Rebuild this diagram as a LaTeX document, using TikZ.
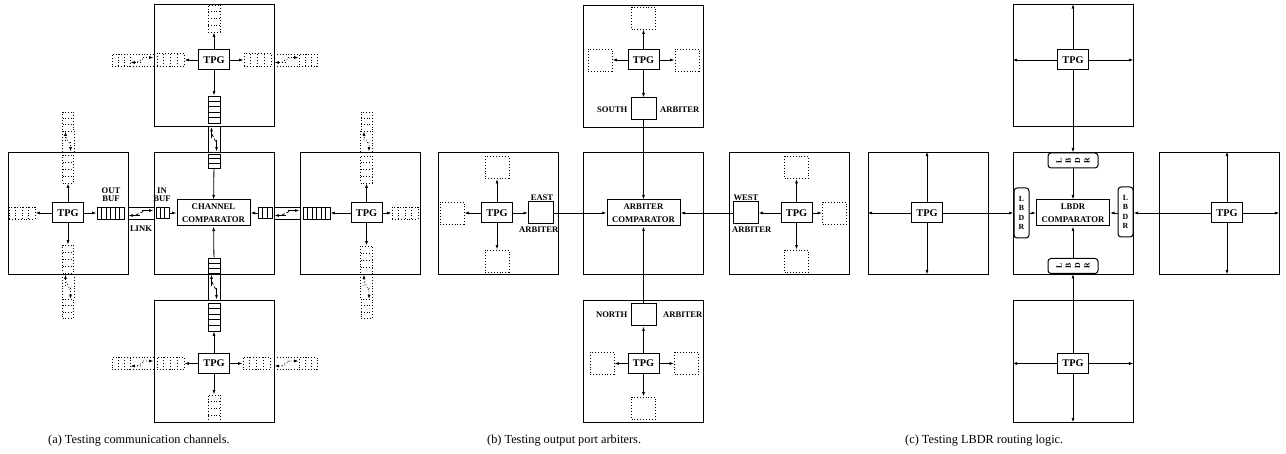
\documentclass[tikz,border=0pt]{standalone}
\usepackage{fontspec}
\setmainfont{Liberation Serif}
\usetikzlibrary{calc,arrows.meta}
\tikzset{
 tile/.style={draw, line width=0.95pt, minimum width=120pt, minimum height=122pt, inner sep=0pt},
 tpg/.style={draw, line width=1pt, minimum width=31pt, minimum height=20pt, inner sep=0pt, font=\fontsize{10.3}{10}\selectfont\bfseries},
 cmp/.style={draw, line width=1pt, minimum width=73pt, minimum height=26pt, inner sep=0pt, align=center, font=\fontsize{8.7}{13}\selectfont\bfseries},
 lbl/.style={inner sep=0pt, align=center, font=\fontsize{8.6}{8}\selectfont\bfseries},
 lbdr/.style={draw, rounded corners=3pt, line width=1pt, minimum width=15pt, minimum height=50pt, inner sep=0pt, align=center, font=\fontsize{7.8}{9.3}\selectfont\bfseries},
 dbox/.style={draw, dotted, line width=0.9pt, inner sep=0pt, minimum width=24pt, minimum height=22pt},
 arb/.style={draw, line width=1pt, inner sep=0pt, minimum width=25pt, minimum height=22pt},
 arr/.style={-{Latex[length=4.5pt,width=3pt]}},
 conn/.style={line width=0.8pt},
 hb/.style={draw, line width=0.9pt, inner sep=0pt, path picture={\foreach \k in {1,...,#1}{\pgfmathsetmacro\bfr{\k/(#1+1)}\draw[line width=0.8pt] ($(path picture bounding box.south west)!\bfr!(path picture bounding box.south east)$) -- ($(path picture bounding box.north west)!\bfr!(path picture bounding box.north east)$);}}},
 dhb/.style={draw, dotted, line width=0.9pt, inner sep=0pt, path picture={\foreach \k in {1,...,#1}{\pgfmathsetmacro\bfr{\k/(#1+1)}\draw[dotted, line width=0.8pt] ($(path picture bounding box.south west)!\bfr!(path picture bounding box.south east)$) -- ($(path picture bounding box.north west)!\bfr!(path picture bounding box.north east)$);}}},
 vb/.style={draw, line width=0.9pt, inner sep=0pt, path picture={\foreach \k in {1,...,#1}{\pgfmathsetmacro\bfr{\k/(#1+1)}\draw[line width=0.8pt] ($(path picture bounding box.south west)!\bfr!(path picture bounding box.north west)$) -- ($(path picture bounding box.south east)!\bfr!(path picture bounding box.north east)$);}}},
 dvb/.style={draw, dotted, line width=0.9pt, inner sep=0pt, path picture={\foreach \k in {1,...,#1}{\pgfmathsetmacro\bfr{\k/(#1+1)}\draw[dotted, line width=0.8pt] ($(path picture bounding box.south west)!\bfr!(path picture bounding box.north west)$) -- ($(path picture bounding box.south east)!\bfr!(path picture bounding box.north east)$);}}},
}
\newcommand\HLink[3]{%
 \draw[conn,#1] ($(#2)+(0,-6)$) -- ($(#3)+(0,-6)$);
 \draw[conn,#1] ($(#2)+(0,6)$) -- ($(#3)+(0,6)$);
 \draw[conn,arr,#1] ($(#2)!0.55!(#3)+(0,-2.5)$) -- ($(#3)+(0,-2.5)$);
 \draw[conn,arr,#1] ($(#2)!0.45!(#3)+(0,2.5)$) -- ($(#2)+(0,2.5)$);
 \draw[conn,densely dashed,#1] ($(#2)!0.3!(#3)+(0,2)$) -- ($(#2)!0.62!(#3)+(0,-2)$);
}
\newcommand\VLink[3]{%
 \draw[conn,#1] ($(#2)+(-6,0)$) -- ($(#3)+(-6,0)$);
 \draw[conn,#1] ($(#2)+(6,0)$) -- ($(#3)+(6,0)$);
 \draw[conn,arr,#1] ($(#2)!0.55!(#3)+(2.5,0)$) -- ($(#3)+(2.5,0)$);
 \draw[conn,arr,#1] ($(#2)!0.45!(#3)+(-2.5,0)$) -- ($(#2)+(-2.5,0)$);
 \draw[conn,densely dashed,#1] ($(#2)!0.3!(#3)+(-2,0)$) -- ($(#2)!0.62!(#3)+(2,0)$);
}
\begin{document}
\begin{tikzpicture}[x=1pt,y=-1pt]
\useasboundingbox (0,0) rectangle (1286,454);
% ================= (a) =================
\node[tile] (aL) at (68,213) {};
\node[tile] (aC) at (214,213) {};
\node[tile] (aR) at (360,213) {};
\node[tile] (aT) at (214,65.5) {};
\node[tile] (aB) at (214,361) {};
% left tile
\node[tpg] (aLt) at (68,213) {TPG};
\node[hb=5, minimum width=27pt, minimum height=12pt] (aLo) at (110.5,213) {};
\node[lbl] (aLol) at (111,195) {OUT\\BUF};
\node[dhb=3, minimum width=26pt, minimum height=12pt] (aLw) at (22,213) {};
\node[dvb=3, minimum width=11pt, minimum height=28pt] (aLn) at (68,169) {};
\node[dvb=3, minimum width=11pt, minimum height=28pt] (aLs) at (68,259) {};
\node[dvb=2, minimum width=11pt, minimum height=19pt] (aLno) at (68,121.5) {};
\node[dvb=2, minimum width=11pt, minimum height=19pt] (aLso) at (68,309) {};
\draw[conn,arr] (aLt) -- (aLo);
\draw[conn,arr] (aLt) -- (aLw);
\draw[conn,arr] (aLt) -- (aLn);
\draw[conn,arr] (aLt) -- (aLs);
\coordinate (aLnE) at (aL.north);
\coordinate (aLsE) at (aL.south);
\VLink{dotted}{aLno.south}{aLnE}
\VLink{dotted}{aLsE}{aLso.north}
% center tile
\node[cmp] (aCc) at (213.5,213) {CHANNEL\\COMPARATOR};
\node[hb=2, minimum width=13pt, minimum height=11pt] (aCi) at (162.5,213) {};
\node[lbl] (aCil) at (162,195) {IN\\BUF};
\node[hb=2, minimum width=14pt, minimum height=11pt] (aCe) at (265,213) {};
\node[vb=2, minimum width=12pt, minimum height=14pt] (aCn) at (214,161) {};
\node[vb=2, minimum width=12pt, minimum height=15pt] (aCs) at (214,265.5) {};
\draw[conn,arr] (aCi) -- (aCc);
\draw[conn,arr] (aCe) -- (aCc);
\draw[conn,arr] (aCn) -- (aCc);
\draw[conn,arr] (aCs) -- (aCc);
\node[lbl] (aLk) at (141,228.5) {LINK};
\HLink{}{aL.east}{aC.west}
\HLink{}{aC.east}{aR.west}
\VLink{}{aT.south}{aC.north}
\VLink{}{aC.south}{aB.north}
% top tile
\node[tpg] (aTt) at (214,60) {TPG};
\node[dvb=3, minimum width=12pt, minimum height=27pt] (aTn) at (214,18.5) {};
\node[dhb=3, minimum width=27pt, minimum height=13pt] (aTw) at (170.5,60) {};
\node[dhb=3, minimum width=27pt, minimum height=13pt] (aTe) at (257.5,60) {};
\node[vb=4, minimum width=12pt, minimum height=27pt] (aTs) at (214,109.5) {};
\node[dhb=2, minimum width=18pt, minimum height=12pt] (aTwo) at (121,60) {};
\node[dhb=2, minimum width=18pt, minimum height=12pt] (aTeo) at (308,60) {};
\draw[conn,arr] (aTt) -- (aTn);
\draw[conn,arr] (aTt) -- (aTw);
\draw[conn,arr] (aTt) -- (aTe);
\draw[conn,arr] (aTt) -- (aTs);
\coordinate (aTwE) at (aT.west |- aTt);
\coordinate (aTeE) at (aT.east |- aTt);
\HLink{dotted}{aTwo.east}{aTwE}
\HLink{dotted}{aTeE}{aTeo.west}
% bottom tile
\node[vb=4, minimum width=12pt, minimum height=28pt] (aBn) at (214,317) {};
\node[tpg] (aBt) at (214,363.5) {TPG};
\node[dhb=3, minimum width=27pt, minimum height=12pt] (aBw) at (170.5,363.5) {};
\node[dhb=3, minimum width=27pt, minimum height=12pt] (aBe) at (256.5,363.5) {};
\node[dvb=3, minimum width=12pt, minimum height=27pt] (aBs) at (214,408.5) {};
\node[dhb=2, minimum width=18pt, minimum height=12pt] (aBwo) at (121,363.5) {};
\node[dhb=2, minimum width=18pt, minimum height=12pt] (aBeo) at (308,363.5) {};
\draw[conn,arr] (aBt) -- (aBn);
\draw[conn,arr] (aBt) -- (aBw);
\draw[conn,arr] (aBt) -- (aBe);
\draw[conn,arr] (aBt) -- (aBs);
\coordinate (aBwE) at (aB.west |- aBt);
\coordinate (aBeE) at (aB.east |- aBt);
\HLink{dotted}{aBwo.east}{aBwE}
\HLink{dotted}{aBeE}{aBeo.west}
% right tile
\node[hb=5, minimum width=27pt, minimum height=12pt] (aRw) at (316.5,213) {};
\node[tpg] (aRt) at (366.5,213) {TPG};
\node[dhb=3, minimum width=26pt, minimum height=12pt] (aRe) at (405,213) {};
\node[dvb=3, minimum width=12pt, minimum height=27pt] (aRn) at (366.5,169.5) {};
\node[dvb=3, minimum width=12pt, minimum height=28pt] (aRs) at (366.5,260) {};
\node[dvb=2, minimum width=11pt, minimum height=19pt] (aRno) at (366.5,121.5) {};
\node[dvb=2, minimum width=11pt, minimum height=19pt] (aRso) at (366.5,309) {};
\draw[conn,arr] (aRt) -- (aRw);
\draw[conn,arr] (aRt) -- (aRe);
\draw[conn,arr] (aRt) -- (aRn);
\draw[conn,arr] (aRt) -- (aRs);
\coordinate (aRnE) at (aRt |- aR.north);
\coordinate (aRsE) at (aRt |- aR.south);
\VLink{dotted}{aRno.south}{aRnE}
\VLink{dotted}{aRsE}{aRso.north}
% ================= (b) =================
\node[tile] (bL) at (498,213) {};
\node[tile] (bC) at (643,213) {};
\node[tile] (bR) at (789,213) {};
\node[tile] (bT) at (643,66) {};
\node[tile] (bB) at (643,361) {};
\node[cmp] (bCc) at (643.5,213) {ARBITER\\COMPARATOR};
% left
\node[tpg] (bLt) at (497,213) {TPG};
\node[dbox] (bLw) at (452,213) {};
\node[dbox] (bLn) at (497,167.5) {};
\node[dbox] (bLs) at (497,261) {};
\node[arb] (bLa) at (541,213) {};
\node[lbl] (bLl1) at (542,198) {EAST};
\node[lbl, anchor=east] (bLl2) at (558.5,230) {ARBITER};
\draw[conn,arr] (bLt) -- (bLw);
\draw[conn,arr] (bLt) -- (bLn);
\draw[conn,arr] (bLt) -- (bLs);
\draw[conn,arr] (bLt) -- (bLa);
\draw[conn,arr] (bLa) -- (bCc);
% right
\node[arb] (bRa) at (745.5,213) {};
\node[tpg] (bRt) at (796.5,213) {TPG};
\node[dbox] (bRe) at (834.5,213) {};
\node[dbox] (bRn) at (796.5,167.5) {};
\node[dbox] (bRs) at (796.5,261) {};
\node[lbl] (bRl1) at (746,198) {WEST};
\node[lbl, anchor=west] (bRl2) at (732,230) {ARBITER};
\draw[conn,arr] (bRt) -- (bRa);
\draw[conn,arr] (bRt) -- (bRe);
\draw[conn,arr] (bRt) -- (bRn);
\draw[conn,arr] (bRt) -- (bRs);
\draw[conn,arr] (bRa) -- (bCc);
% top
\node[tpg] (bTt) at (643.5,60) {TPG};
\node[dbox] (bTn) at (643.5,18) {};
\node[dbox] (bTw) at (600,60) {};
\node[dbox] (bTe) at (687,60) {};
\node[arb] (bTa) at (643.5,109) {};
\node[lbl, anchor=east] (bTl1) at (627.5,110) {SOUTH};
\node[lbl, anchor=west] (bTl2) at (660,110) {ARBITER};
\draw[conn,arr] (bTt) -- (bTn);
\draw[conn,arr] (bTt) -- (bTw);
\draw[conn,arr] (bTt) -- (bTe);
\draw[conn,arr] (bTt) -- (bTa);
\draw[conn,arr] (bTa) -- (bCc);
% bottom
\node[arb] (bBa) at (643.5,315) {};
\node[lbl, anchor=east] (bBl1) at (627.5,315) {NORTH};
\node[lbl, anchor=west] (bBl2) at (663,315) {ARBITER};
\node[tpg] (bBt) at (643.5,363.5) {TPG};
\node[dbox] (bBw) at (602,363.5) {};
\node[dbox] (bBe) at (686.5,363.5) {};
\node[dbox] (bBs) at (643.5,408) {};
\draw[conn,arr] (bBt) -- (bBa);
\draw[conn,arr] (bBt) -- (bBw);
\draw[conn,arr] (bBt) -- (bBe);
\draw[conn,arr] (bBt) -- (bBs);
\draw[conn,arr] (bBa) -- (bCc);
% ================= (c) =================
\node[tile] (cL) at (928,213) {};
\node[tile] (cC) at (1073,213) {};
\node[tile] (cR) at (1219,213) {};
\node[tile] (cT) at (1073,65.5) {};
\node[tile] (cB) at (1073,361) {};
\node[cmp] (cCc) at (1073,213) {LBDR\\COMPARATOR};
\node[lbdr] (cCw) at (1021.5,213) {L\\B\\D\\R};
\node[lbdr] (cCe) at (1125.5,212) {L\\B\\D\\R};
\node[lbdr, rotate=90] (cCn) at (1073,160.5) {L\\B\\D\\R};
\node[lbdr, rotate=90] (cCs) at (1073,266) {L\\B\\D\\R};
\draw[conn,arr] (cCw) -- (cCc);
\draw[conn,arr] (cCe.west |- cCc) -- (cCc);
\draw[conn,arr] (cCn) -- (cCc);
\draw[conn,arr] (cCs) -- (cCc);
% left
\node[tpg] (cLt) at (927,213) {TPG};
\coordinate (cLw) at (cL.west |- cLt);
\coordinate (cLn) at (cLt |- cL.north);
\coordinate (cLs) at (cLt |- cL.south);
\draw[conn,arr] (cLt) -- (cLw);
\draw[conn,arr] (cLt) -- (cLn);
\draw[conn,arr] (cLt) -- (cLs);
\draw[conn,arr] (cLt) -- (cCw);
% right
\node[tpg] (cRt) at (1227,213) {TPG};
\coordinate (cRe) at (cR.east |- cRt);
\coordinate (cRn) at (cRt |- cR.north);
\coordinate (cRs) at (cRt |- cR.south);
\coordinate (cRw) at (cCe.east |- cRt);
\draw[conn,arr] (cRt) -- (cRe);
\draw[conn,arr] (cRt) -- (cRn);
\draw[conn,arr] (cRt) -- (cRs);
\draw[conn,arr] (cRt) -- (cRw);
% top
\node[tpg] (cTt) at (1073,60) {TPG};
\coordinate (cTw) at (cT.west |- cTt);
\coordinate (cTe) at (cT.east |- cTt);
\coordinate (cTn) at (cTt |- cT.north);
\draw[conn,arr] (cTt) -- (cTw);
\draw[conn,arr] (cTt) -- (cTe);
\draw[conn,arr] (cTt) -- (cTn);
\draw[conn,arr] (cTt) -- (cCn);
% bottom
\node[tpg] (cBt) at (1073,363.5) {TPG};
\coordinate (cBw) at (cB.west |- cBt);
\coordinate (cBe) at (cB.east |- cBt);
\coordinate (cBs) at (cBt |- cB.south);
\draw[conn,arr] (cBt) -- (cBw);
\draw[conn,arr] (cBt) -- (cBe);
\draw[conn,arr] (cBt) -- (cBs);
\draw[conn,arr] (cBt) -- (cCs);
% captions
\node[anchor=base west, inner sep=0pt, font=\fontsize{12.3}{14}\selectfont] (capa) at (48,443) {(a) Testing communication channels.};
\node[anchor=base west, inner sep=0pt, font=\fontsize{12.3}{14}\selectfont] (capb) at (487,443) {(b) Testing output port arbiters.};
\node[anchor=base west, inner sep=0pt, font=\fontsize{12.3}{14}\selectfont] (capc) at (905,443) {(c) Testing LBDR routing logic.};
\end{tikzpicture}
\end{document}
